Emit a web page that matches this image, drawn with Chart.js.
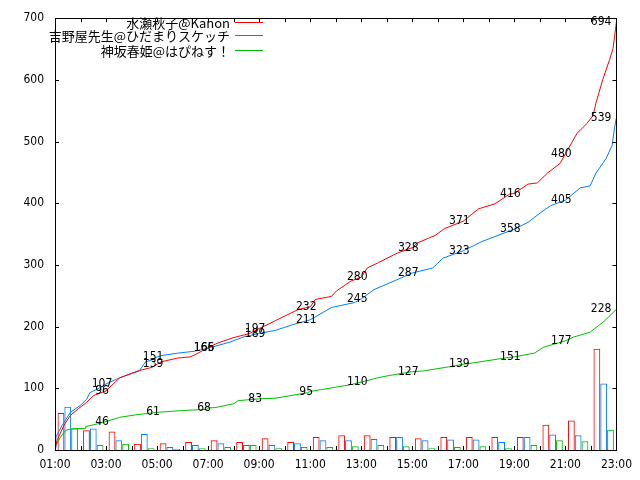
<!DOCTYPE html>
<html>
<head>
<meta charset="utf-8">
<script src="https://cdn.jsdelivr.net/npm/chart.js@4.4.1/dist/chart.umd.min.js"></script>
<style>
  html, body { margin: 0; padding: 0; background: #fff; }
  canvas { display: block; }
</style>
</head>
<body>
<canvas id="canvas" width="640" height="480"></canvas>
<script>
// hourly bins (start of each hour)
const hours = ['01:00','02:00','03:00','04:00','05:00','06:00','07:00','08:00','09:00','10:00','11:00',
               '12:00','13:00','14:00','15:00','16:00','17:00','18:00','19:00','20:00','21:00','22:00'];
const redBars   = [60, 32, 30, 10, 11, 13, 16, 13, 19, 13, 21, 24, 24, 21, 19, 21, 21, 21, 21, 41, 48, 164];
const blueBars  = [70, 35, 16, 26, 5, 8, 11, 8, 8, 11, 16, 16, 18, 21, 16, 17, 17, 13, 21, 25, 24, 108];
const greenBars = [35, 8, 10, 3, 2, 3, 5, 8, 3, 5, 5, 6, 8, 6, 3, 5, 6, 3, 8, 16, 14, 33];

// running totals [time, count]
const redLine = [
  ['01:00',3],['01:05',16],['01:21',40],['01:36',56],['01:55',67],['02:14',77],['02:30',88],['03:00',96],
  ['03:32',117],['04:14',128],['04:48',134],['05:00',139],['05:10',143],['05:48',149],['06:19',151],
  ['06:50',162],['07:00',166],['07:21',173],['07:59',182],['08:38',189],['09:00',197],['09:16',202],
  ['09:39',210],['10:33',228],['11:00',232],['11:12',244],['11:50',249],['12:02',258],['12:36',274],
  ['13:00',280],['13:14',295],['13:41',304],['14:24',319],['15:00',328],['15:10',335],['15:54',348],
  ['16:16',359],['17:00',371],['17:36',391],['18:14',399],['18:49',415],['19:00',416],['19:32',431],
  ['19:54',433],['20:18',449],['20:48',465],['21:00',480],['21:27',513],['21:50',529],['22:05',542],
  ['22:12',563],['22:28',601],['22:44',633],['22:52',651],['23:00',694]
];
const blueLine = [
  ['01:00',3],['01:02',21],['01:17',40],['01:36',61],['01:59',72],['02:14',82],['02:22',93],['02:46',101],
  ['03:00',107],['03:32',117],['04:18',128],['04:33',143],['04:48',146],['05:00',151],['05:10',153],
  ['05:48',157],['06:27',160],['07:00',165],['07:52',175],['08:22',183],['09:00',189],['09:39',194],
  ['10:18',203],['11:00',211],['11:50',231],['12:44',239],['13:00',245],['13:30',260],['14:24',276],
  ['15:00',287],['15:48',295],['16:12',311],['17:00',323],['17:44',338],['19:00',358],['19:32',369],
  ['20:02',385],['20:25',396],['21:00',405],['21:35',425],['21:58',428],['22:12',449],['22:36',473],
  ['22:50',494],['22:55',520],['23:00',539]
];
const greenLine = [
  ['01:00',3],['01:03',8],['01:13',21],['01:25',32],['01:44',35],['02:11',35],['02:12',38],['02:38',42],
  ['03:00',46],['03:32',53],['04:10',57],['05:00',61],['06:00',64],['06:58',66],['07:00',68],['07:18',69],
  ['08:00',75],['08:11',80],['09:00',83],['09:39',84],['10:54',93],['11:00',95],['11:27',98],['12:36',106],
  ['13:00',110],['13:38',117],['14:08',121],['15:00',127],['15:24',128],['16:19',134],['17:00',139],
  ['17:21',141],['18:46',150],['19:00',151],['19:47',157],['20:10',167],['21:00',177],['21:19',183],
  ['21:58',191],['22:30',208],['23:00',228]
];

// values printed on the lines
const markTimes  = ['03:00','05:00','07:00','09:00','11:00','13:00','15:00','17:00','19:00','21:00','23:00'];
const redMarks   = [96, 139, 166, 197, 232, 280, 328, 371, 416, 480, 694];
const blueMarks  = [107, 151, 165, 189, 211, 245, 287, 323, 358, 405, 539];
const greenMarks = [46, 61, 68, 83, 95, 110, 127, 139, 151, 177, 228];

const xTickLabels = ['01:00','03:00','05:00','07:00','09:00','11:00','13:00','15:00','17:00','19:00','21:00','23:00'];
const yTickValues = [0, 100, 200, 300, 400, 500, 600, 700];

const seriesNames  = ['水瀬秋子@Kanon', '吉野屋先生@ひだまりスケッチ', '神坂春姫@はぴねす！'];
const seriesColors = ['#ff0000', '#0080ff', '#00c000'];

const numFont = "'DejaVu Sans Condensed', 'DejaVu Sans', sans-serif";
const jpFont = "'Noto Sans CJK JP', sans-serif";

function toHours(t){
  const p = t.split(':');
  return Number(p[0]) + Number(p[1]) / 60;
}

function barData(values){
  return hours.map((h, i) => ({ x: toHours(h) + 0.5, y: values[i] }));
}
function lineData(rows){
  return rows.map(r => ({ x: toHours(r[0]), y: r[1] }));
}

const barSets = [redBars, blueBars, greenBars].map((v, i) => ({
  type: 'bar',
  label: seriesNames[i] + ' bars',
  data: barData(v),
  backgroundColor: 'rgba(0,0,0,0)',
  borderColor: seriesColors[i],
  borderWidth: 1,
  barPercentage: 1,
  categoryPercentage: 0.8,
  order: 2
}));

const lineSets = [redLine, blueLine, greenLine].map((rows, i) => ({
  type: 'line',
  label: seriesNames[i],
  data: lineData(rows),
  borderColor: seriesColors[i],
  borderWidth: 1,
  pointRadius: 0,
  tension: 0,
  fill: false,
  order: 1
}));

const whiteBack = {
  id: 'whiteBack',
  beforeDraw(chart){
    const ctx = chart.ctx;
    ctx.save();
    ctx.fillStyle = '#fff';
    ctx.fillRect(0, 0, chart.width, chart.height);
    ctx.restore();
  }
};

// gnuplot style frame with inward ticks
const frame = {
  id: 'frame',
  afterDraw(chart){
    const ctx = chart.ctx;
    const a = chart.chartArea;
    const xs = chart.scales.x, ys = chart.scales.y;
    ctx.save();
    ctx.strokeStyle = '#000';
    ctx.lineWidth = 1;
    ctx.beginPath();
    for(let h = Math.ceil(xs.min); h <= xs.max; h++){
      const px = Math.round(xs.getPixelForValue(h)) + 0.5;
      ctx.moveTo(px, a.bottom); ctx.lineTo(px, a.bottom - 4);
      ctx.moveTo(px, a.top); ctx.lineTo(px, a.top + 4);
    }
    yTickValues.forEach(v => {
      const py = Math.round(ys.getPixelForValue(v)) + 0.5;
      ctx.moveTo(a.left, py); ctx.lineTo(a.left + 4, py);
      ctx.moveTo(a.right, py); ctx.lineTo(a.right - 4, py);
    });
    ctx.stroke();
    ctx.strokeRect(Math.round(a.left) + 0.5, Math.round(a.top) + 0.5,
                   Math.round(a.right - a.left), Math.round(a.bottom - a.top));
    ctx.restore();
  }
};

const marks = {
  id: 'marks',
  afterDatasetsDraw(chart){
    const ctx = chart.ctx;
    const xs = chart.scales.x, ys = chart.scales.y;
    const right = chart.chartArea.right;
    ctx.save();
    ctx.font = '12px ' + numFont;
    ctx.fillStyle = '#000';
    ctx.textBaseline = 'middle';
    ctx.textAlign = 'center';
    [redMarks, blueMarks, greenMarks].forEach(list => {
      list.forEach((v, i) => {
        const txt = String(v);
        const w = ctx.measureText(txt).width;
        let cx = xs.getPixelForValue(toHours(markTimes[i])) - 4;
        if(cx + w / 2 > right - 5) cx = right - 5 - w / 2;
        ctx.fillText(txt, cx, ys.getPixelForValue(v));
      });
    });
    ctx.restore();
  }
};

const keyBox = {
  id: 'keyBox',
  afterDraw(chart){
    const ctx = chart.ctx;
    const rows = [22, 35, 50];
    ctx.save();
    ctx.font = '13px ' + jpFont;
    ctx.textAlign = 'right';
    ctx.textBaseline = 'middle';
    ctx.lineWidth = 1;
    lineSets.forEach((ds, i) => {
      ctx.fillStyle = '#000';
      ctx.fillText(ds.label, 230, rows[i] + 1);
      ctx.strokeStyle = ds.borderColor;
      ctx.beginPath();
      ctx.moveTo(235, rows[i] + 0.5);
      ctx.lineTo(263, rows[i] + 0.5);
      ctx.stroke();
    });
    ctx.restore();
  }
};

new Chart(document.getElementById('canvas'), {
  type: 'bar',
  data: { datasets: barSets.concat(lineSets) },
  plugins: [whiteBack, frame, marks, keyBox],
  options: {
    responsive: false,
    animation: false,
    devicePixelRatio: 1,
    events: [],
    layout: { padding: { top: 11, right: 13, left: 0, bottom: 0 } },
    plugins: {
      legend: { display: false },
      tooltip: { enabled: false }
    },
    scales: {
      x: {
        type: 'linear',
        min: 1,
        max: 23,
        offset: false,
        grid: { display: false, drawTicks: false, offset: false },
        border: { display: false },
        afterBuildTicks(scale){
          scale.ticks = xTickLabels.map(t => ({ value: toHours(t) }));
        },
        afterFit(scale){ scale.height = 30; },
        ticks: {
          autoSkip: false,
          maxRotation: 0,
          padding: 8,
          color: '#000',
          font: { family: numFont, size: 12 },
          callback: function(value){
            const t = xTickLabels.find(s => toHours(s) === value);
            return t || '';
          }
        }
      },
      y: {
        min: 0,
        max: 700,
        grid: { display: false, drawTicks: false },
        border: { display: false },
        afterBuildTicks(scale){
          scale.ticks = yTickValues.map(v => ({ value: v }));
        },
        afterFit(scale){ scale.width = 55; },
        ticks: {
          padding: 11,
          color: '#000',
          font: { family: numFont, size: 12 }
        }
      }
    }
  }
});
</script>
</body>
</html>
